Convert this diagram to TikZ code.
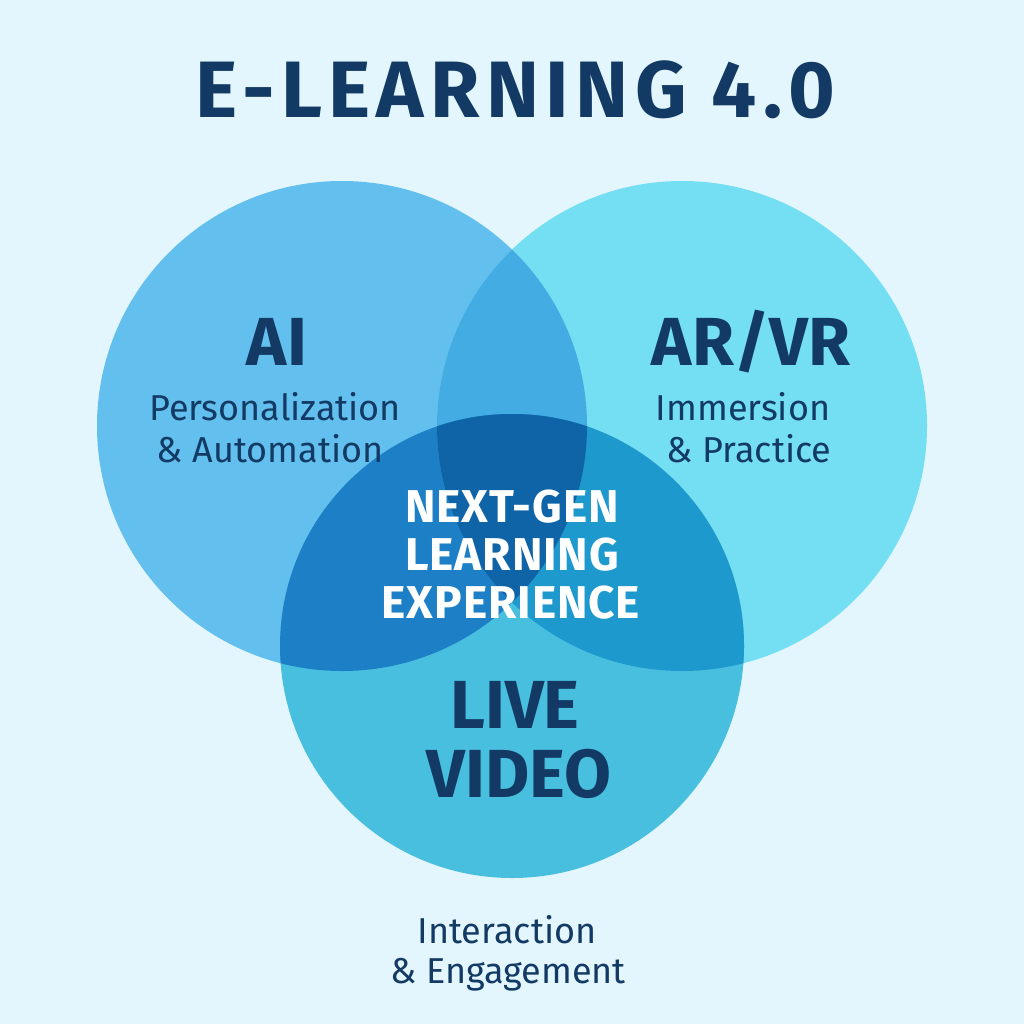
\documentclass[tikz,border=0pt]{standalone}
\usepackage{fontspec}
\setmainfont{Fira Sans}
\newfontfamily\titlefont[LetterSpace=8]{Fira Sans}
\newfontfamily\corefont[LetterSpace=2]{Fira Sans}
\usepackage{xcolor}
\definecolor{bgblue}{HTML}{E3F6FD}
\definecolor{aiblue}{HTML}{63C0EE}
\definecolor{arblue}{HTML}{74DEF2}
\definecolor{liveblue}{HTML}{48BFDE}
\definecolor{aiar}{HTML}{43ACE3}
\definecolor{ailive}{HTML}{1D80C7}
\definecolor{arlive}{HTML}{1E99CD}
\definecolor{coreblue}{HTML}{0F64A8}
\definecolor{navy}{HTML}{123A64}

\tikzset{
  head/.style={anchor=base,text=navy,font=\fontsize{68}{68}\selectfont\bfseries},
  sub/.style={anchor=base,text=navy,font=\fontsize{36}{36}\selectfont},
  core/.style={anchor=base,text=white,font=\corefont\fontsize{46}{46}\selectfont\bfseries}
}

\begin{document}
\begin{tikzpicture}[x=1pt,y=-1pt]
  \def\rA{245pt}
  \def\rB{232pt}

  %Background
  \fill[bgblue] (0,0) rectangle (1024,1024);
  \useasboundingbox (0,0) rectangle (1024,1024);

  \coordinate (ai) at (342,426);
  \coordinate (ar) at (682,426);
  \coordinate (live) at (512,646);

  %Circles
  \fill[aiblue] (ai) circle (\rA);
  \fill[arblue] (ar) circle (\rA);
  \fill[liveblue] (live) circle (\rB);

  %Overlaps
  \begin{scope}
    \clip (ai) circle (\rA);
    \fill[aiar] (ar) circle (\rA);
    \fill[ailive] (live) circle (\rB);
  \end{scope}
  \begin{scope}
    \clip (ar) circle (\rA);
    \fill[arlive] (live) circle (\rB);
    \clip (ai) circle (\rA);
    \fill[coreblue] (live) circle (\rB);
  \end{scope}

  %Title
  \node[anchor=base,text=navy,font=\titlefont\fontsize{80}{80}\selectfont\bfseries] (ttl) at (515,118) {E-LEARNING 4.0};

  %Labels
  \node[head] (aihead) at (277,365) {AI};
  \node[sub] (aisub1) at (275,420) {Personalization};
  \node[sub] (aisub2) at (270,462) {\& Automation};

  \node[head] (arhead) at (751,365) {AR/VR};
  \node[sub] (arsub1) at (743,420) {Immersion};
  \node[sub] (arsub2) at (749,462) {\& Practice};

  \node[core] (core1) at (512,522) {NEXT-GEN};
  \node[core] (core2) at (512,570) {LEARNING};
  \node[core] (core3) at (511,618) {EXPERIENCE};

  \node[head] (livehead1) at (515,728) {LIVE};
  \node[head] (livehead2) at (519,797) {VIDEO};
  \node[sub] (livesub1) at (507,943) {Interaction};
  \node[sub] (livesub2) at (508,983) {\& Engagement};
\end{tikzpicture}
\end{document}
